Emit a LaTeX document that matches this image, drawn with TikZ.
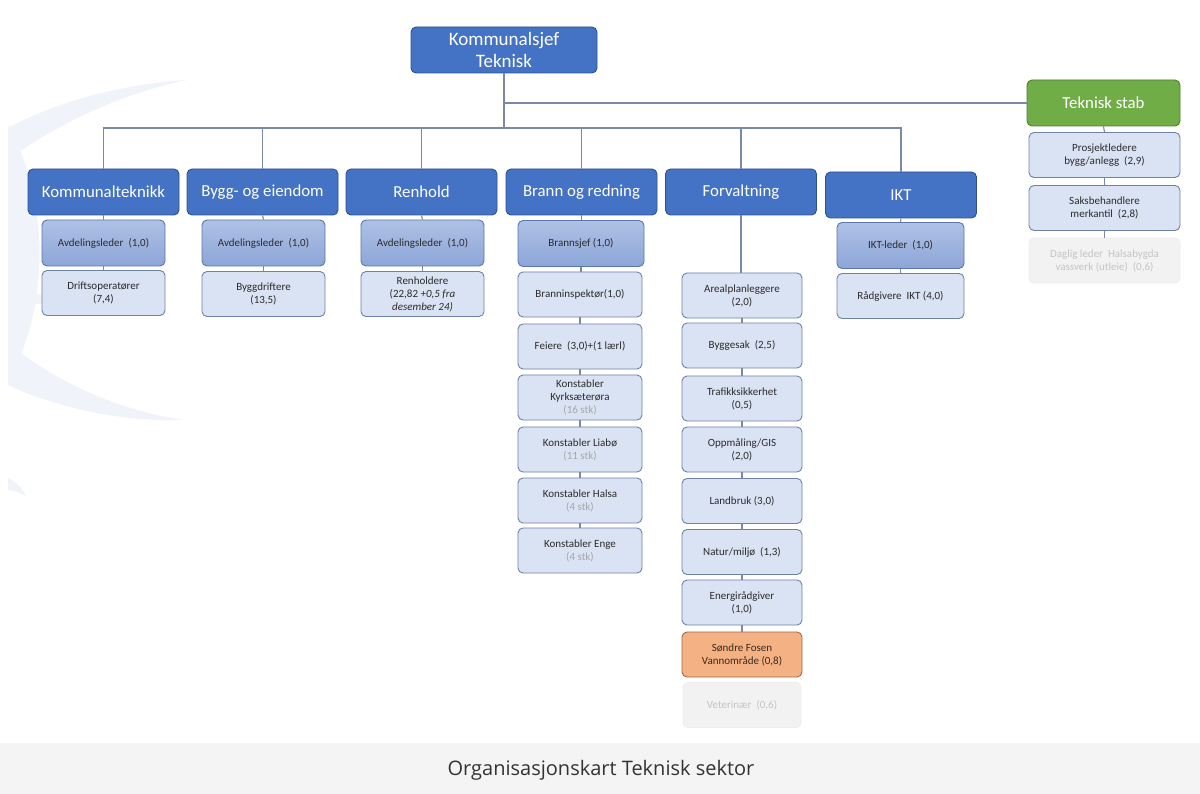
\documentclass[tikz,border=0pt]{standalone}
\usepackage{fontspec}
\setmainfont{Carlito}
\newfontfamily\capfont{Open Sans}
\definecolor{deptblue}{HTML}{4472C4}
\definecolor{deptborder}{HTML}{2F528F}
\definecolor{lvltop}{HTML}{AFC1E5}
\definecolor{lvlbot}{HTML}{8CA6D8}
\definecolor{leadborder}{HTML}{5A76AA}
\definecolor{unitfill}{HTML}{DAE3F3}
\definecolor{unitborder}{HTML}{6E82A6}
\definecolor{txt}{HTML}{2B2B2B}
\definecolor{stktext}{HTML}{A6A6A6}
\definecolor{fadefill}{HTML}{F2F2F2}
\definecolor{fadeborder}{HTML}{EEEEEE}
\definecolor{fadetext}{HTML}{C4C4C4}
\definecolor{stabgreen}{HTML}{70AD47}
\definecolor{stabborder}{HTML}{507E32}
\definecolor{orfill}{HTML}{F4B183}
\definecolor{orborder}{HTML}{A0684A}
\definecolor{ortext}{HTML}{3B2A1E}
\definecolor{connc}{HTML}{7A8AA6}
\definecolor{capbg}{HTML}{F4F4F4}
\definecolor{captext}{HTML}{333333}
\definecolor{swoosh}{HTML}{F0F4FA}
\tikzset{
  base/.style={rounded corners=5pt, align=center, inner sep=2pt, line width=0.9pt},
  topbox/.style={base, fill=deptblue, draw=deptborder, text=white, minimum width=186pt, minimum height=46pt, font=\fontsize{19}{22}\selectfont},
  dept/.style={base, fill=deptblue, draw=deptborder, text=white, minimum width=151pt, minimum height=46pt, font=\fontsize{16.8}{19}\selectfont},
  stabbox/.style={base, fill=stabgreen, draw=stabborder, text=white, minimum width=153pt, minimum height=46pt, font=\fontsize{16.8}{19}\selectfont},
  lead/.style={base, top color=lvltop, bottom color=lvlbot, draw=leadborder, text=txt, minimum width=123pt, minimum height=46pt, font=\fontsize{11}{13}\selectfont},
  unit/.style={base, fill=unitfill, draw=unitborder, text=txt, minimum width=123pt, minimum height=45pt, font=\fontsize{11}{13}\selectfont},
  orange/.style={base, fill=orfill, draw=orborder, text=ortext, minimum width=120pt, minimum height=45pt, font=\fontsize{11}{13}\selectfont},
  faded/.style={base, fill=fadefill, draw=fadeborder, text=fadetext, minimum height=45pt, font=\fontsize{11}{13}\selectfont},
  conn/.style={draw=connc, line width=1.1pt},
}
\newcommand{\stk}[1]{{\color{stktext}#1}}
\begin{document}
\begin{tikzpicture}[x=1pt,y=-1pt]
\useasboundingbox (0,0) rectangle (1200,794);
\fill[white] (0,0) rectangle (1200,794);
% background swoosh
\fill[swoosh] (8,128) .. controls (60,100) and (125,84) .. (187,80) .. controls (120,94) and (55,125) .. (8,160) -- cycle;
\fill[swoosh] (8,125) .. controls (50,200) and (50,310) .. (8,380) -- cycle;
\fill[swoosh] (8,240) .. controls (20,242) and (32,244) .. (42,248) .. controls (30,250) and (18,252) .. (8,254) -- cycle;
\fill[swoosh] (8,290) .. controls (35,294) and (70,298) .. (100,302) .. controls (65,303) and (30,304) .. (8,306) -- cycle;
\fill[swoosh] (8,343) .. controls (60,385) and (120,410) .. (183,420) .. controls (115,422) and (50,405) .. (8,385) -- cycle;
\fill[swoosh] (8,478) .. controls (16,482) and (22,488) .. (26,496) .. controls (18,492) and (12,490) .. (8,490) -- cycle;
% caption bar
\fill[capbg] (0,743) rectangle (1200,794);
\node[font=\capfont\fontsize{20}{24}\selectfont, text=captext] (cap) at (601,770) {Organisasjonskart Teknisk sektor};
% top
\node[topbox] (top) at (504,50) {Kommunalsjef\\Teknisk};
% departments
\node[dept] (k1) at (103.5,192) {Kommunalteknikk};
\node[dept] (k2) at (262.5,192) {Bygg- og eiendom};
\node[dept] (k3) at (421.5,192) {Renhold};
\node[dept] (k4) at (581.5,192) {Brann og redning};
\node[dept] (k5) at (741,192) {Forvaltning};
\node[dept] (k6) at (901,195) {IKT};
\node[stabbox] (stab) at (1103.5,103) {Teknisk stab};
% sub boxes
\node[lead] (a1) at (103.5,243) {Avdelingsleder~~(1,0)};
\node[unit] (d1) at (103.5,293) {Driftsoperatører\\(7,4)};
\node[lead] (a2) at (263.5,243) {Avdelingsleder~~(1,0)};
\node[unit] (d2) at (263.5,294) {Byggdriftere\\(13,5)};
\node[lead] (a3) at (422.5,243) {Avdelingsleder~~(1,0)};
\node[unit] (d3) at (422.5,294) {Renholdere\\(22,82 \textit{+0,5 fra}\\\textit{desember 24)}};
% brann
\node[lead, minimum width=126pt] (b1) at (581,243.5) {Brannsjef (1,0)};
\node[unit, minimum width=124pt] (b2) at (580,294.5) {Branninspektør(1,0)};
\node[unit, minimum width=124pt] (b3) at (580,346.5) {Feiere~~(3,0)+(1 lærl)};
\node[unit, minimum width=124pt] (b4) at (580,397.5) {Konstabler\\Kyrksæterøra\\\stk{(16 stk)}};
\node[unit, minimum width=124pt] (b5) at (580,449.5) {Konstabler Liabø\\\stk{(11 stk)}};
\node[unit, minimum width=124pt] (b6) at (580,500.5) {Konstabler Halsa\\\stk{(4 stk)}};
\node[unit, minimum width=124pt] (b7) at (580,550.5) {Konstabler Enge\\\stk{(4 stk)}};
% forvaltning
\node[unit, minimum width=120pt] (f1) at (742,295.5) {Arealplanleggere\\(2,0)};
\node[unit, minimum width=120pt] (f2) at (742,345.5) {Byggesak~~(2,5)};
\node[unit, minimum width=120pt] (f3) at (742,398.5) {Trafikksikkerhet\\(0,5)};
\node[unit, minimum width=120pt] (f4) at (742,449.5) {Oppmåling/GIS\\(2,0)};
\node[unit, minimum width=120pt] (f5) at (742,501) {Landbruk (3,0)};
\node[unit, minimum width=120pt] (f6) at (742,552) {Natur/miljø~~(1,3)};
\node[unit, minimum width=120pt] (f7) at (742,602.5) {Energirådgiver\\(1,0)};
\node[orange] (f8) at (742,654.5) {Søndre Fosen\\Vannområde (0,8)};
\node[faded, minimum width=118pt] (f9) at (742,705) {Veterinær~~(0,6)};
% IKT
\node[lead, minimum width=127pt] (i1) at (900.5,245.5) {IKT-leder~~(1,0)};
\node[unit, minimum width=127pt] (i2) at (900.5,296) {Rådgivere~~IKT (4,0)};
% stab
\node[unit, minimum width=151pt] (s1) at (1104.5,155) {Prosjektledere\\bygg/anlegg~~(2,9)};
\node[unit, minimum width=151pt] (s2) at (1104.5,208) {Saksbehandlere\\merkantil~~(2,8)};
\node[faded, minimum width=151pt] (s3) at (1104.5,260.5) {Daglig leder~~Halsabygda\\vassverk (utleie)~~(0,6)};
% connectors
\coordinate (bus) at (0,128);
\draw[conn] (top.south) -- (top.south |- bus);
\draw[conn] (top.south |- stab.west) -- (stab.west);
\draw[conn] (k1.north) -- (k1.north |- bus) -- (k6.north |- bus) -- (k6.north);
\foreach \k in {k2,k3,k4,k5}{\draw[conn] (\k.north) -- (\k.north |- bus);}
\draw[conn] (k1.south) -- (a1.north);
\draw[conn] (a1.south) -- (d1.north);
\draw[conn] (k2.south) -- (a2.north);
\draw[conn] (a2.south) -- (d2.north);
\draw[conn] (k3.south) -- (a3.north);
\draw[conn] (a3.south) -- (d3.north);
\draw[conn] (k4.south) -- (k4.south |- b1.north);
\draw[conn] (b1.south) -- (b1.south |- b2.north);
\draw[conn] (b2.south) -- (b3.north);
\draw[conn] (b3.south) -- (b4.north);
\draw[conn] (b4.south) -- (b5.north);
\draw[conn] (b5.south) -- (b6.north);
\draw[conn] (b6.south) -- (b7.north);
\draw[conn] (k5.south) -- (k5.south |- f1.north);
\draw[conn] (f1.south) -- (f2.north);
\draw[conn] (f2.south) -- (f3.north);
\draw[conn] (f3.south) -- (f4.north);
\draw[conn] (f4.south) -- (f5.north);
\draw[conn] (f5.south) -- (f6.north);
\draw[conn] (f6.south) -- (f7.north);
\draw[conn] (f7.south) -- (f8.north);
\draw[conn] (k6.south) -- (i1.north);
\draw[conn] (i1.south) -- (i2.north);
\draw[conn] (stab.south) -- (s1.north);
\draw[conn] (s1.south) -- (s2.north);
\draw[conn] (s2.south) -- (s3.north);
\end{tikzpicture}
\end{document}
